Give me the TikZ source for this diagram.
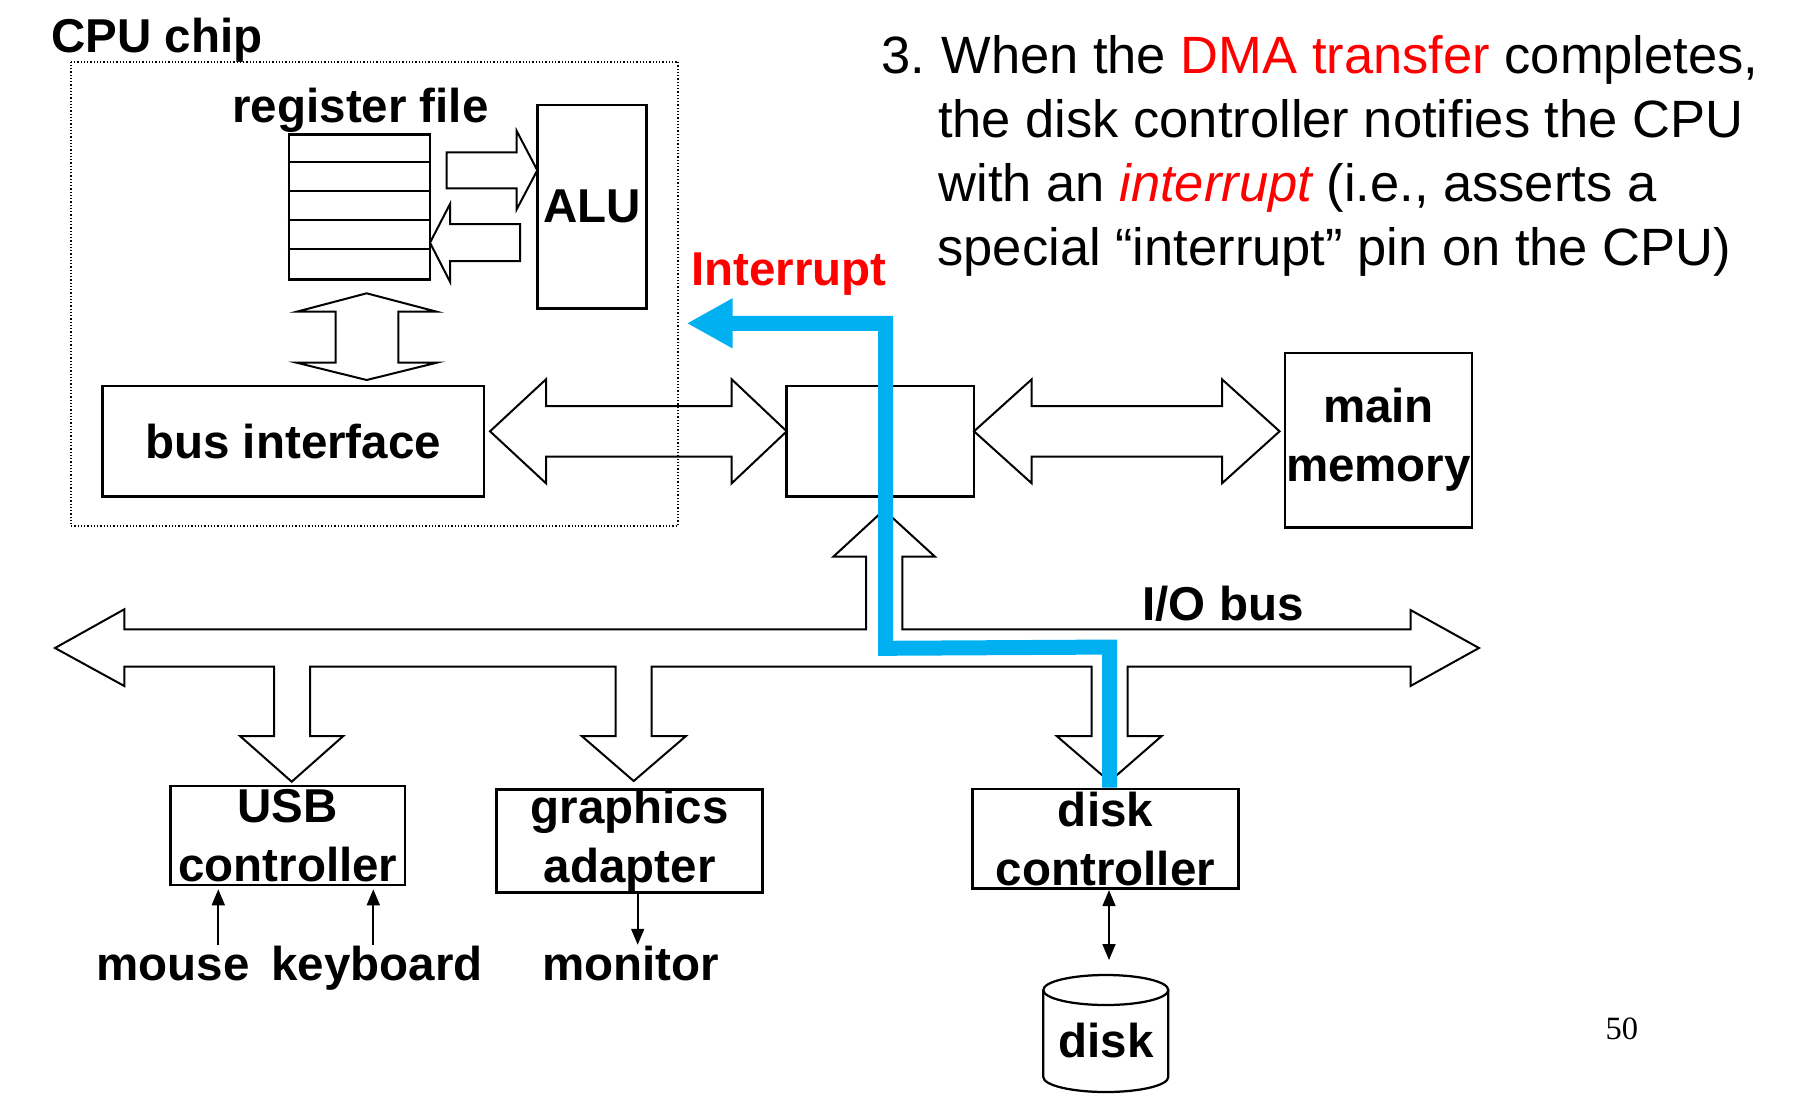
\documentclass[tikz,border=0pt]{standalone}
\usepackage{fontspec}
\setmainfont{Liberation Sans}
\newfontfamily\pagefont{Liberation Serif}
\usepackage{xcolor}
\usetikzlibrary{arrows.meta}
\usetikzlibrary{calc}
\definecolor{intblue}{RGB}{0,176,240}
\definecolor{intred}{RGB}{255,0,0}
\newcommand\labfont{\fontsize{19}{23.6}\selectfont\bfseries}
\newcommand\notefont{\fontsize{21}{25.4}\selectfont}

\begin{document}
\begin{tikzpicture}[x=0.4pt,y=0.4pt,yscale=-1,xscale=1,
  >={Triangle[length=6.4pt,width=5.2pt]},
  unitbox/.style={draw,line width=1.1pt,inner sep=0pt,align=center,font=\labfont},
  txtlab/.style={inner sep=0pt,font=\labfont,text height=13.9pt,text depth=4pt},
  notetxt/.style={inner sep=0pt,font=\notefont,anchor=base west},
  busarrow/.style={draw,line width=0.8pt,line join=miter},
  sigarrow/.style={draw,line width=0.7pt},
  cpuframe/.style={draw,line width=0.8pt,dash pattern=on 0.5pt off 0.8pt},
  intpath/.style={draw=intblue,line width=6pt,line join=miter,-{Triangle[length=18.4pt,width=18.7pt]}}]
\path[use as bounding box,fill=white] (0,0) rectangle (1795,1115);

%Shape: Polygon (register file to ALU)
\draw[busarrow] (446.7,152.3) -- (516.7,152.3) -- (516.7,131) -- (537.3,170.3) -- (516.7,209.3) -- (516.7,188.3) -- (446.7,188.3) -- cycle ;
%Shape: Polygon (ALU to register file)
\draw[busarrow] (520,224) -- (450,224) -- (450,204) -- (430,242.7) -- (450,281.7) -- (450,261) -- (520,261) -- cycle ;
%Shape: Polygon (register file to bus interface)
\draw[busarrow] (366.7,293.3) -- (436.7,311.7) -- (398.3,311.7) -- (398.3,362.7) -- (436.7,362.7) -- (366.7,380) -- (296.7,362.7) -- (335.7,362.7) -- (335.7,311.7) -- (296.7,311.7) -- cycle ;
%Shape: Polygon (system bus)
\draw[busarrow] (490,431.3) -- (546,379.3) -- (546,406) -- (731.7,406) -- (731.7,379.3) -- (786.7,431.3) -- (731.7,483.3) -- (731.7,456.7) -- (546,456.7) -- (546,483.3) -- cycle ;
%Shape: Polygon (memory bus)
\draw[busarrow] (974,431.3) -- (1031.7,379.3) -- (1031.7,406) -- (1222,406) -- (1222,379.3) -- (1279.6,431.3) -- (1222,483.3) -- (1222,456.7) -- (1031.7,456.7) -- (1031.7,483.3) -- cycle ;
%Shape: Polygon (I/O bus with its branches)
\draw[busarrow] (55,648) -- (124.3,609.3) -- (124.3,629.3) -- (866,629.3) -- (866,556.7) -- (833.3,556.7) -- (884,510) -- (935,556.7) -- (902.3,556.7) -- (902.3,629.3) -- (1410.5,629.3) -- (1410.5,610) -- (1479,648) -- (1410.5,686) -- (1410.5,666.7) -- (1127.7,666.7) -- (1127.7,736) -- (1161.7,736) -- (1109.5,781.5) -- (1056.7,736) -- (1091.7,736) -- (1091.7,666.7) -- (651.7,666.7) -- (651.7,736) -- (686,736) -- (633.7,781) -- (581.7,736) -- (615.7,736) -- (615.7,666.7) -- (310,666.7) -- (310,736) -- (343.3,736) -- (291.7,781.7) -- (240,736) -- (274,736) -- (274,666.7) -- (124.3,666.7) -- (124.3,686) -- cycle ;

%Shape: Rectangle (CPU chip)
\draw[cpuframe] (70.6,61.5) rectangle (678,525.7) ;

% Boxes
\node[unitbox,minimum width=56.4pt,minimum height=58pt] (regs) at (359.5,206.8) {};
\foreach \k in {1,...,4}
  \draw[line width=1.1pt] ($(regs.north west)+(0,\k*29)$) -- ($(regs.north east)+(0,\k*29)$);
\node[unitbox,minimum width=43.8pt,minimum height=81.3pt] (alu) at (592,206.7) {ALU};
\node[unitbox,minimum width=152.7pt,minimum height=44.2pt] (busif) at (293.2,441.3) {bus interface};
\node[unitbox,minimum width=74.9pt,minimum height=44.3pt] (bridge) at (880.3,441.3) {};
\node[unitbox,minimum width=74.8pt,minimum height=69.7pt] (mem) at (1378.5,440) {main\\memory};
\node[unitbox,minimum width=93.7pt,minimum height=39.6pt] (usb) at (287.8,835.5) {USB\\controller};
\node[unitbox,minimum width=106.4pt,minimum height=39.9pt] (gfx) at (629.7,841) {graphics\\adapter};
\node[unitbox,minimum width=106.2pt,minimum height=39.9pt] (dcon) at (1105.5,838.9) {disk\\controller};

%Shape: Can (disk)
\draw[line width=0.9pt] (1043.3,990) -- (1043.3,1077) arc (180:0:62.5 and 15) -- (1168.3,990) ;
\draw[line width=0.9pt] (1105.8,990) ellipse (62.5 and 15) ;

% Text Node
\node[txtlab,anchor=base west] (cpulab) at (51,52) {CPU chip};
\node[txtlab,anchor=base west] (reglab) at (232,122) {register file};
\node[txtlab,anchor=base west,text=intred] (intlab) at (691,285) {Interrupt};
\node[txtlab,anchor=base west] (ioblab) at (1142,620) {I/O bus};
\node[txtlab,anchor=base west] (mouse) at (96,980) {mouse};
\node[txtlab,anchor=base west] (keyboard) at (271,980) {keyboard};
\node[txtlab,anchor=base west] (monitor) at (542,980) {monitor};
\node[txtlab,anchor=base] (disk) at (1106,1057) {disk};
\node[inner sep=0pt,anchor=base west,font=\pagefont\fontsize{13}{15}\selectfont] (pagenum) at (1605,1039) {50};

% Text Node
\node[notetxt] (num) at (881,73.5) {3.};
\node[notetxt] (note1) at (941,73.5) {When the \textcolor{intred}{DMA transfer} completes,};
\node[notetxt] (note2) at (937.5,137) {the disk controller notifies the CPU};
\node[notetxt] (note3) at (938,201.3) {with an \textcolor{intred}{\itshape interrupt} (i.e., asserts a};
\node[notetxt] (note4) at (937,265) {special “interrupt” pin on the CPU)};

%Straight Lines
\coordinate (mousein) at (218.3,889.3);
\coordinate (keyin) at (373.3,889.3);
\coordinate (monout) at (637.7,900);
\coordinate (diskin) at (1109,960);
\draw[sigarrow,->] (mouse.north -| mousein) -- (mousein);
\draw[sigarrow,->] (keyboard.north -| keyin) -- (keyin);
\draw[sigarrow,->] (gfx.south -| monout) -- (monitor.north -| monout);
\draw[sigarrow,<->] (dcon.south -| diskin) -- (diskin);

%Straight Lines (interrupt signal)
\coordinate (intend) at (686.7,323.3);
\draw[intpath] ($(dcon.north)+(4,0)$) -- ++(0,-140.6) -- (885.5,648.3) -- (885.5,323.3) -- (intend);

\end{tikzpicture}
\end{document}
